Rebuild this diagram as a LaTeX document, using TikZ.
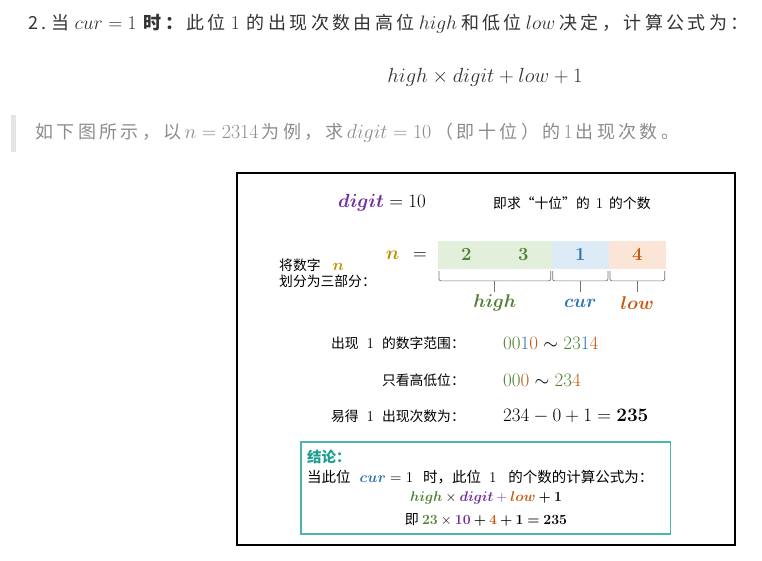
\RequirePackage{fix-cm}
\documentclass[tikz,border=0pt]{standalone}
\usepackage{amsmath}
\usepackage{amssymb}
\usepackage[no-math]{fontspec}
\setmainfont{Noto Sans CJK SC}
\newfontfamily\widefont[LetterSpace=19]{Noto Sans CJK SC}
\usetikzlibrary{positioning}

\definecolor{ink}{HTML}{333333}
\definecolor{quotegray}{HTML}{8C8C8C}
\definecolor{bargray}{HTML}{E4E4E4}
\definecolor{hgreen}{HTML}{538135}
\definecolor{cblue}{HTML}{2E75B6}
\definecolor{lorange}{HTML}{C55A11}
\definecolor{dpurple}{HTML}{7030A0}
\definecolor{ngold}{HTML}{BF9000}
\definecolor{hfill}{HTML}{E2EFDA}
\definecolor{cfill}{HTML}{DDEBF7}
\definecolor{lfill}{HTML}{FBE5D6}
\definecolor{tealline}{HTML}{4DB6AC}
\definecolor{tealtext}{HTML}{1E9E8E}

\newcommand\xmath[2]{{\fontsize{#1}{#1}\selectfont$#2$}}

\begin{document}
\begin{tikzpicture}[x=1pt,y=-1pt,
  wide/.style={inner sep=0pt,font=\widefont\fontsize{18}{22}\selectfont},
  small/.style={inner sep=0pt,font=\fontsize{13.8}{16}\selectfont},
  concl/.style={inner sep=0pt,font=\fontsize{14.5}{17}\selectfont},
  mathbig/.style={inner sep=0pt,font=\fontsize{19}{22}\selectfont},
  cell/.style={inner sep=0pt,minimum height=28.3pt,outer sep=0pt},
  digitnum/.style={inner sep=0pt,font=\fontsize{18.5}{20}\selectfont},
  bracket/.style={draw=black!55,line width=0.7pt,rounded corners=2pt}]
  \useasboundingbox (0,0) rectangle (762,560);

  \node[wide,anchor=west,text=ink] (intro) at (28,24) {2.\hspace{5pt}当\hspace{5pt}\xmath{19.5}{cur=1}\hspace{7pt}\textbf{时：}\hspace{0pt}此位\hspace{5pt}\xmath{19.5}{1}\hspace{7pt}的出现次数由高位\hspace{4pt}\xmath{19.5}{high}\hspace{4pt}和低位\hspace{4pt}\xmath{19.5}{low}\hspace{4pt}决定，计算公式为：};
  \node[inner sep=0pt,font=\fontsize{20.5}{24}\selectfont,text=ink] (rule) at (485,77) {$high\times digit+low+1$};
  \fill[bargray] (11,115) rectangle (15.5,151.5);
  \node[wide,anchor=west,text=quotegray] (quote) at (35,133) {如下图所示，以\hspace{3pt}\xmath{20}{n=2314}\hspace{3pt}为例，求\hspace{3pt}\xmath{20}{digit=10}\hspace{4pt}（即十位）的\hspace{3pt}\xmath{20}{1}\hspace{3pt}出现次数。};

  \draw[line width=1.3pt] (237,173) rectangle (735,545);

  \node[mathbig,anchor=west] (dig) at (338,203) {$\color{dpurple}\boldsymbol{digit}\color{black}=10$};
  \node[small,anchor=west] (ask) at (493,203) {即求“十位”的\hspace{6pt}\xmath{15}{1}\hspace{6pt}的个数};

  \node[small,anchor=west] (split1) at (279,265) {将数字\hspace{12pt}\xmath{16}{\color{ngold}\boldsymbol{n}}};
  \node[small,anchor=west] (split2) at (279,281) {划分为三部分：};
  \node[mathbig,anchor=east] (neq) at (427,255) {$\color{ngold}\boldsymbol{n}\color{black}\ \ =$};

  \node[cell,fill=hfill,minimum width=113.7pt] (cellH) at (494.8,255) {};
  \node[cell,fill=cfill,minimum width=57.3pt,right=0pt of cellH] (cellC) {};
  \node[cell,fill=lfill,minimum width=56.7pt,right=0pt of cellC] (cellL) {};
  \node[digitnum,text=hgreen] (d2) at ([xshift=-28.5pt]cellH.center) {$\mathbf{2}$};
  \node[digitnum,text=hgreen] (d3) at ([xshift=28.5pt]cellH.center) {$\mathbf{3}$};
  \node[digitnum,text=cblue] (d1) at (cellC.center) {$\mathbf{1}$};
  \node[digitnum,text=lorange] (d4) at (cellL.center) {$\mathbf{4}$};

  \draw[bracket] ([xshift=1pt,yshift=-1.7pt]cellH.south west) |- ([yshift=-11.7pt]cellH.south) -| ([xshift=-1pt,yshift=-1.7pt]cellH.south east);
  \draw[bracket] ([xshift=1pt,yshift=-1.7pt]cellC.south west) |- ([yshift=-11.7pt]cellC.south) -| ([xshift=-1pt,yshift=-1.7pt]cellC.south east);
  \draw[bracket] ([xshift=1pt,yshift=-1.7pt]cellL.south west) |- ([yshift=-11.7pt]cellL.south) -| ([xshift=-1pt,yshift=-1.7pt]cellL.south east);
  \draw[bracket] ([yshift=-11.7pt]cellH.south) -- ++(0,11);
  \draw[bracket] ([yshift=-11.7pt]cellC.south) -- ++(0,11);
  \draw[bracket] ([yshift=-11.7pt]cellL.south) -- ++(0,11);

  \node[digitnum,text=hgreen] (lblH) at (494.8,303) {$\boldsymbol{high}$};
  \node[digitnum,text=cblue] (lblC) at (cellC.center |- lblH) {$\boldsymbol{cur}$};
  \node[digitnum,text=lorange] (lblL) at (cellL.center |- lblH) {$\boldsymbol{low}$};

  \node[small,anchor=east] (rangeA) at (465,343) {出现\hspace{8pt}\xmath{15}{1}\hspace{8pt}的数字范围：};
  \node[small,anchor=east] (rangeB) at (465,380) {只看高低位：};
  \node[small,anchor=east] (rangeC) at (465,416) {易得\hspace{8pt}\xmath{15}{1}\hspace{8pt}出现次数为：};
  \node[mathbig,anchor=west] (valA) at (503,343) {$\color{hgreen}00\color{cblue}1\color{lorange}0\color{black}\sim\color{hgreen}23\color{cblue}1\color{lorange}4$};
  \node[mathbig,anchor=west] (valB) at (503,380) {$\color{hgreen}00\color{lorange}0\color{black}\sim\color{hgreen}23\color{lorange}4$};
  \node[mathbig,anchor=west] (valC) at (503,416) {$234-0+1=\mathbf{235}$};

  \draw[tealline,line width=1.2pt] (301,442) rectangle (670.5,534);
  \node[concl,anchor=west,text=tealtext] (sumT) at (307,457) {\textbf{结论：}};
  \node[concl,anchor=west] (sumA) at (307,477) {当此位\hspace{9pt}\xmath{15}{\color{cblue}\boldsymbol{cur}\color{black}=1}\hspace{10pt}时，此位\hspace{8pt}\xmath{15}{1}\hspace{12pt}的个数的计算公式为：};
  \node[inner sep=0pt,font=\fontsize{14}{17}\selectfont] (sumB) at (486,498) {$\color{hgreen}\boldsymbol{high}\color{black}\times\color{dpurple}\boldsymbol{digit}+\color{lorange}\boldsymbol{low}\color{black}\mathbin{\boldsymbol{+}}\mathbf{1}$};
  \node[inner sep=0pt,font=\fontsize{14}{17}\selectfont] (sumC) at (486,520) {即 $\color{hgreen}\mathbf{23}\color{black}\times\color{dpurple}\mathbf{10}\color{black}\mathbin{\boldsymbol{+}}\color{lorange}\mathbf{4}\color{black}\mathbin{\boldsymbol{+}}\mathbf{1}\mathrel{\boldsymbol{=}}\mathbf{235}$};
\end{tikzpicture}
\end{document}
